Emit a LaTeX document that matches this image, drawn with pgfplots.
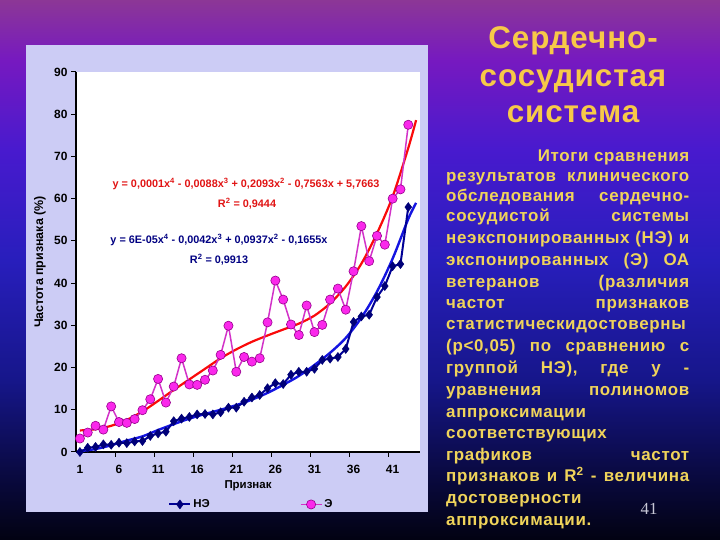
\documentclass[border=0pt]{standalone}
\usepackage{fontspec}
\setmainfont{Liberation Sans}
\newfontfamily\slidefont[LetterSpace=4]{Liberation Sans}
\newfontfamily\titlefont[LetterSpace=3]{Liberation Sans}
\newfontfamily\pagefont{Liberation Serif}
\usepackage{pgfplots}
\pgfplotsset{compat=1.18}

\definecolor{bgT}{RGB}{140,55,150}
\definecolor{bgA}{RGB}{118,25,192}
\definecolor{bgB}{RGB}{72,26,206}
\definecolor{bgC}{RGB}{40,30,188}
\definecolor{bgD}{RGB}{22,22,138}
\definecolor{bgE}{RGB}{10,10,68}
\definecolor{bgF}{RGB}{2,2,18}
\definecolor{panel}{RGB}{204,204,245}
\definecolor{gold}{RGB}{247,201,72}
\definecolor{bodytext}{RGB}{240,212,90}
\definecolor{pagenum}{RGB}{200,200,215}
\definecolor{neLine}{RGB}{0,0,150}
\definecolor{neMark}{RGB}{0,0,120}
\definecolor{eLine}{RGB}{210,50,200}
\definecolor{eMark}{RGB}{250,40,235}
\definecolor{eEdge}{RGB}{150,0,140}
\definecolor{trendR}{RGB}{250,10,10}
\definecolor{trendB}{RGB}{20,20,225}
\definecolor{eqR}{RGB}{225,20,20}
\definecolor{eqB}{RGB}{0,0,130}

% slide background, image y 0 (top) .. 540 (bottom) mapped to 75bp .. 25bp
\pgfdeclareverticalshading{slidebg}{100bp}{%
  color(0bp)=(bgF); color(25bp)=(bgF); color(31.5bp)=(bgE);
  color(39.8bp)=(bgD); color(50.9bp)=(bgC); color(61.1bp)=(bgB);
  color(69.4bp)=(bgA); color(75bp)=(bgT); color(100bp)=(bgT)}

\pgfplotstableread{
x  ne   e
1  0.0  3.2
2  1.0  4.6
3  1.2  6.2
4  1.8  5.3
5  1.7  10.8
6  2.2  7.1
7  2.1  6.9
8  2.5  7.8
9  2.6  9.9
10 3.8  12.5
11 4.4  17.3
12 4.8  11.7
13 7.3  15.5
14 7.9  22.2
15 8.3  16.0
16 8.9  15.9
17 9.0  17.1
18 8.9  19.3
19 9.4  23.0
20 10.5 29.9
21 10.5 19.0
22 11.9 22.5
23 12.9 21.4
24 13.5 22.2
25 15.1 30.7
26 16.3 40.6
27 16.1 36.1
28 18.3 30.2
29 19.0 27.7
30 19.0 34.7
31 19.7 28.4
32 21.8 30.1
33 22.1 36.1
34 22.5 38.7
35 24.4 33.7
36 30.8 42.8
37 32.1 53.5
38 32.5 45.2
39 36.7 51.2
40 39.3 49.1
41 44.0 60.0
42 44.5 62.2
43 58.0 77.5
}\series

\pgfplotstableread{
x  r    b
1  5.1  0.2
3  5.4  0.7
5  6.2  1.6
7  7.6  2.7
9  9.6  3.7
11 12.1 5.2
13 14.7 6.6
15 17.2 7.9
17 19.7 9.0
19 22.2 10.0
21 24.3 11.1
23 26.1 12.4
25 27.6 14.0
27 29.0 15.9
29 30.4 18.0
31 32.3 20.6
33 35.2 23.5
35 39.2 27.0
37 44.6 31.8
39 51.8 38.0
41 60.5 45.8
43 72.0 55.2
44 78.6 59.0
}\trends

\begin{document}
\begin{tikzpicture}[x=1bp,y=1bp]
\shade[shading=slidebg] (0,0) rectangle (720,540);
\fill[panel] (26,28) rectangle (428,495);

\begin{axis}[
  at={(76bp,88bp)}, anchor=south west,
  scale only axis, width=344bp, height=380bp,
  xmin=0.5, xmax=44.5, ymin=0, ymax=90,
  axis lines*=left,
  axis line style={black, line width=1.1bp},
  axis background/.style={fill=white},
  tick align=outside, major tick length=5bp,
  tick style={black, line width=1bp},
  ytick={0,10,...,90},
  xtick={5.5,10.5,15.5,20.5,25.5,30.5,35.5,40.5},
  xticklabels={},
  extra x ticks={1,6,11,16,21,26,31,36,41},
  extra x tick labels={1,6,11,16,21,26,31,36,41},
  extra x tick style={major tick length=0pt,
    xticklabel style={yshift=-10bp}},
  ticklabel style={font=\fontsize{12}{14}\selectfont\bfseries},
  /pgf/number format/assume math mode=true,
  xlabel={Признак},
  xlabel style={at={(axis description cs:0.5,-0.09)}, anchor=center,
    font=\fontsize{11.5}{13}\selectfont\bfseries},
  ylabel={Частота признака (\%)},
  ylabel style={at={(axis description cs:-0.105,0.5)}, anchor=center,
    font=\fontsize{12.5}{14}\selectfont\bfseries},
  legend style={at={(axis description cs:0.51,-0.138)}, anchor=center,
    draw=none, fill=none, legend columns=2,
    font=\fontsize{11.5}{13}\selectfont\bfseries,
    /tikz/every even column/.append style={column sep=88bp}},
  legend image code/.code={\draw[mark repeat=2,mark phase=2,#1]
    plot coordinates {(0bp,0bp) (10.5bp,0bp) (21bp,0bp)};},
]
\addplot[trendR, line width=2.2bp, smooth, forget plot] table[x=x, y=r] {\trends};
\addplot[trendB, line width=2.4bp, smooth, forget plot] table[x=x, y=b] {\trends};
\addplot[neLine, line width=2bp, mark=diamond*, mark size=4.5bp,
  mark options={fill=neMark, draw=neMark, line width=0.5bp}]
  table[x=x, y=ne] {\series};
\addlegendentry{НЭ}
\addplot[eLine, line width=1.5bp, mark=*, mark size=4.6bp,
  mark options={fill=eMark, draw=eEdge, line width=0.6bp}]
  table[x=x, y=e] {\series};
\addlegendentry{Э}
\end{axis}

% trendline equations
\begin{scope}[every node/.style={inner sep=0pt, font=\fontsize{10.9}{13}\selectfont\bfseries}]
\node[text=eqR] at (246,356) {y = 0,0001x\textsuperscript{4} - 0,0088x\textsuperscript{3} + 0,2093x\textsuperscript{2} - 0,7563x + 5,7663};
\node[text=eqR] at (247,336) {R\textsuperscript{2} = 0,9444};
\node[text=eqB] at (219,300) {y = 6E-05x\textsuperscript{4} - 0,0042x\textsuperscript{3} + 0,0937x\textsuperscript{2} - 0,1655x};
\node[text=eqB] at (219,280) {R\textsuperscript{2} = 0,9913};
\end{scope}

% slide title
\begin{scope}[every node/.style={inner sep=0pt, anchor=base, text=gold,
    font=\titlefont\fontsize{31.5}{36}\selectfont\bfseries}]
\node at (573,491) {Сердечно-};
\node at (573,453) {сосудистая};
\node at (573,417) {система};
\end{scope}

% slide text
\begin{scope}[every node/.style={inner sep=0pt, anchor=base west, text=bodytext,
    font=\slidefont\fontsize{17}{20}\selectfont\bfseries}]
\node at (446,378.5) {\makebox[243bp][r]{Итоги сравнения}};
\node at (446,358.5) {\makebox[243bp][s]{результатов клинического}};
\node at (446,338.5) {\makebox[243bp][s]{обследования сердечно-}};
\node at (446,318.5) {\makebox[243bp][s]{сосудистой системы}};
\node at (446,296.5) {\makebox[243bp][s]{неэкспонированных (НЭ) и}};
\node at (446,274.5) {\makebox[243bp][s]{экспонированных (Э) ОА}};
\node at (446,252.5) {\makebox[243bp][s]{ветеранов (различия}};
\node at (446,231.5) {\makebox[243bp][s]{частот признаков}};
\node at (446,210.0) {статистическидостоверны};
\node at (446,188.5) {\makebox[243bp][s]{(р<0,05) по сравнению с}};
\node at (446,166.5) {\makebox[243bp][s]{группой НЭ), где y -}};
\node at (446,144.5) {\makebox[243bp][s]{уравнения полиномов}};
\node at (446,122.5) {аппроксимации};
\node at (446,101.5) {соответствующих};
\node at (446,79.5) {\makebox[243bp][s]{графиков частот}};
\node at (446,58.5) {\makebox[243bp][s]{признаков и R\textsuperscript{2} - величина}};
\node at (446,36.5) {достоверности};
\node at (446,14.5) {аппроксимации.};
\end{scope}
\node[inner sep=0pt, anchor=base, text=pagenum,
  font=\pagefont\fontsize{17}{20}\selectfont] at (649,25) {41};
\end{tikzpicture}
\end{document}
